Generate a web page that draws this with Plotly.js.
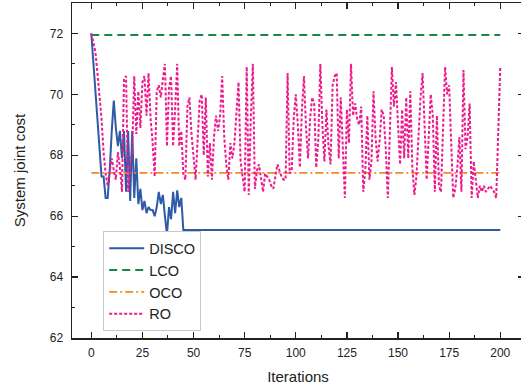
<!DOCTYPE html>
<html>
<head>
<meta charset="utf-8">
<script src="https://cdn.plot.ly/plotly-3.0.1.min.js"></script>
<style>html,body{margin:0;padding:0;background:#fff;overflow:hidden;}#wrap{width:521px;height:390px;overflow:hidden;}#chart{width:524px;height:390px;}</style>
</head>
<body>
<div id="wrap"><div id="chart"></div></div>
<script>
const discoIter = [0,1,2,3,4,5,6,7,8,9,10,11,12,13,14,15,16,17,18,19,20,21,22,23,24,25,26,27,28,29,30,31,32,33,34,35,36,37,38,39,40,41,42,43,44,45,200];
const discoCost = [72.0,71.0,70.0,69.0,68.1,67.3,67.3,66.6,66.6,67.5,68.8,69.8,68.9,68.3,68.8,67.9,68.8,66.8,68.8,66.5,68.8,66.6,67.9,66.4,66.9,66.2,66.5,66.1,66.3,66.2,66.2,66.0,66.3,66.8,66.4,66.7,66.0,65.4,66.3,65.9,66.8,66.1,66.85,66.3,66.6,65.55,65.55];

const lcoIter = [0,200];
const lcoCost = [71.95,71.95];

const ocoIter = [0,200];
const ocoCost = [67.42,67.42];

const roCost = [72.0,71.7,71.4,70.7,70.0,69.2,68.1,67.4,67.0,67.5,
67.9,67.5,67.2,68.1,67.6,66.8,70.5,70.6,66.8,67.6,
68.2,70.6,68.7,70.1,68.9,70.4,70.6,69.3,70.7,69.2,
68.4,67.3,70.1,70.3,69.9,70.5,71.0,68.3,70.2,70.6,
68.3,69.5,71.0,68.3,68.8,67.4,67.2,69.6,69.9,68.7,
67.8,67.2,68.5,69.8,70.0,68.0,69.9,67.3,68.4,67.2,
68.6,69.3,68.8,69.3,70.6,68.6,67.7,67.2,68.4,67.9,
68.4,69.3,70.4,67.8,67.3,66.8,70.9,66.7,69.2,71.0,
66.9,67.5,67.7,67.2,66.8,67.4,67.3,67.2,67.0,66.9,
67.3,67.7,67.5,67.3,67.2,67.2,70.7,67.4,67.5,69.2,
70.0,69.0,67.6,69.5,70.6,68.9,67.9,69.2,69.9,69.7,
67.6,68.5,71.0,69.0,67.8,69.5,68.3,67.7,70.3,70.6,
70.7,67.9,69.9,68.3,66.6,69.5,68.4,71.0,69.3,69.7,
69.2,69.0,69.6,66.8,67.5,69.3,67.2,67.8,70.1,68.6,
67.8,68.5,69.5,69.3,68.2,66.6,69.2,70.9,69.6,70.4,
69.0,67.7,69.5,67.9,69.9,67.9,70.1,67.6,66.7,67.3,
68.6,69.9,70.7,68.9,67.2,68.6,70.0,69.3,66.8,69.3,
67.0,66.8,68.9,70.9,70.0,70.3,68.4,66.6,66.9,67.6,
68.6,66.8,70.8,68.2,68.6,69.7,66.6,67.8,67.2,66.6,
67.0,66.8,67.0,66.8,66.9,67.0,66.9,66.8,66.6,68.5,
70.9];
const roIter = roCost.map((_, i) => i);

const xTicks = [0,25,50,75,100,125,150,175,200];
const yTicks = [62,64,66,68,70,72];

const font = 'Liberation Sans, Arial, sans-serif';

const traces = [
  {x: discoIter, y: discoCost, name: 'DISCO', mode: 'lines', line: {color: '#2f5aa6', width: 2}},
  {x: lcoIter, y: lcoCost, name: 'LCO', mode: 'lines', line: {color: '#17884a', width: 2, dash: '8px,5px'}},
  {x: ocoIter, y: ocoCost, name: 'OCO', mode: 'lines', line: {color: '#f5872a', width: 1.8, dash: '8px,3px,2px,3px'}},
  {x: roIter, y: roCost, name: 'RO', mode: 'lines', line: {color: '#ec1a8c', width: 2, dash: '3px,2px'}}
];

const axisCommon = {
  showline: true, linecolor: '#222', linewidth: 1.5, mirror: 'ticks',
  ticks: 'inside', ticklen: 6, tickwidth: 1.2, tickcolor: '#222',
  showgrid: false, zeroline: false,
  tickfont: {family: font, size: 12, color: '#222'}
};

const layout = {
  width: 524, height: 390,
  margin: {l: 72, r: 0, t: 3, b: 52},
  paper_bgcolor: '#fff', plot_bgcolor: '#fff',
  showlegend: true,
  xaxis: Object.assign({}, axisCommon, {
    range: [-9.44, 211.6], tickvals: xTicks, ticktext: xTicks.map(String),
    ticklabelstandoff: 3,
    minor: {ticks: 'inside', ticklen: 3, tickwidth: 1, tickcolor: '#222', dtick: 12.5, tick0: 0, showgrid: false},
    title: {text: 'Iterations', font: {family: font, size: 15, color: '#222'}, standoff: 12}
  }),
  yaxis: Object.assign({}, axisCommon, {
    range: [62, 73], tickvals: yTicks, ticktext: yTicks.map(String),
    ticklabelstandoff: 5,
    minor: {ticks: 'inside', ticklen: 3, tickwidth: 1, tickcolor: '#222', dtick: 1, tick0: 62, showgrid: false},
    title: {text: 'System joint cost', font: {family: font, size: 15, color: '#222'}, standoff: 20}
  }),
  legend: {
    x: 0.069, y: 0.02, xanchor: 'left', yanchor: 'bottom',
    bgcolor: '#fff', bordercolor: '#c8c8c8', borderwidth: 1,
    font: {family: font, size: 14.5, color: '#222'},
    tracegroupgap: 0, itemwidth: 35
  }
};

Plotly.newPlot('chart', traces, layout, {displayModeBar: false, staticPlot: true});
</script>
</body>
</html>
